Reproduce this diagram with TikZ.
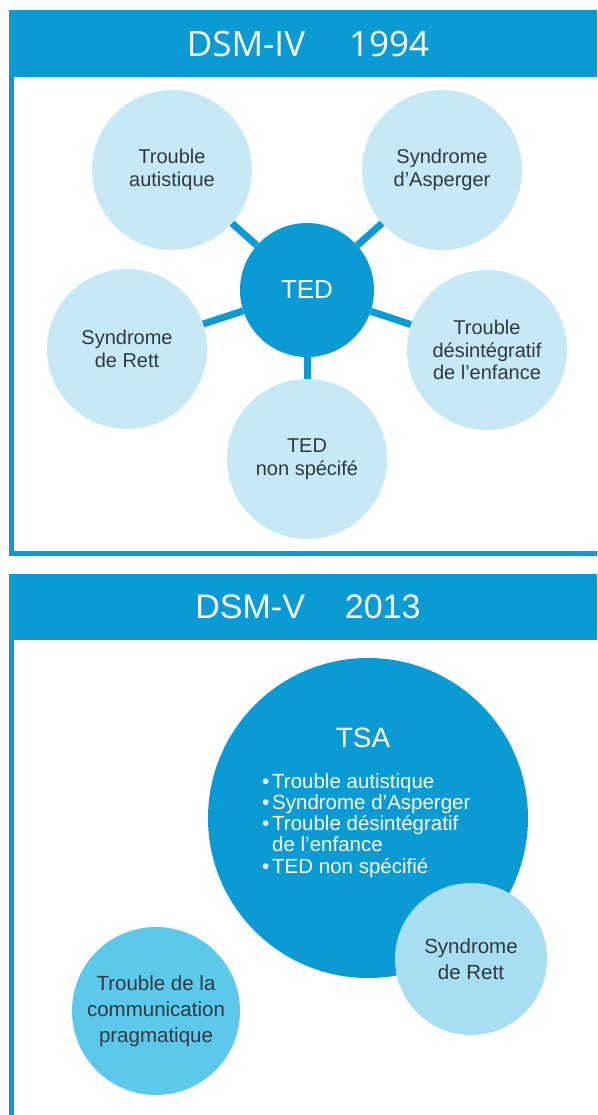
\documentclass[tikz,border=0pt]{standalone}
\usepackage{fontspec}
\setmainfont{Liberation Sans}
\newfontfamily\hdfont{Open Sans}
\definecolor{dblue}{HTML}{0A9AD4}
\definecolor{lblue}{HTML}{C6E9F5}
\definecolor{mblue}{HTML}{5CC8EA}
\definecolor{rblue}{HTML}{A8DEF2}
\definecolor{ltext}{HTML}{2F3A40}
\newcommand\mybul{\makebox[10pt][l]{\textbullet}}
\begin{document}
\begin{tikzpicture}[x=1pt,y=-1pt,
  light/.style={circle,fill=lblue,minimum size=160pt,inner sep=0pt,align=center,text=ltext,font=\fontsize{20}{22.5}\selectfont},
  lowc/.style={circle,inner sep=0pt,align=center,text=ltext,font=\fontsize{20.5}{26}\selectfont},
  hub/.style={circle,fill=dblue,inner sep=0pt,text=white},
  link/.style={draw=dblue,line width=7pt},
  frameline/.style={draw=dblue,line width=5pt}]
\useasboundingbox (0,0) rectangle (597,1115);
\fill[white] (0,0) rectangle (597,1115);
% ---------- DSM-IV ----------
\fill[dblue] (9,10) rectangle (597,77);
\node[text=white,font=\hdfont\fontsize{35}{40}\selectfont] (h1) at (308,44) {DSM-IV\hspace{44pt}1994};
\draw[frameline] (11.5,77) -- (11.5,553) -- (597,553);

\node[hub,minimum size=134pt,font=\fontsize{26}{30}\selectfont] (ted) at (307,290) {TED};
\node[light] (ta) at (172,170) {Trouble\\autistique};
\node[light] (sa) at (442,170) {Syndrome\\d’Asperger};
\node[light] (sr) at (127,349) {Syndrome\\de Rett};
\node[light] (td) at (487,350) {Trouble\\désintégratif\\de l’enfance};
\node[light] (tns) at (307,459) {TED\\non spécifé};
\draw[link] (ted) -- (ta);
\draw[link] (ted) -- (sa);
\draw[link] (ted) -- (sr);
\draw[link] (ted) -- (td);
\draw[link] (ted) -- (tns);

% ---------- DSM-V ----------
\fill[dblue] (9,574) rectangle (597,640);
\node[text=white,font=\fontsize{34}{40}\selectfont] (h2) at (308,607) {DSM-V\hspace{40pt}2013};
\draw[frameline] (11.5,640) -- (11.5,1115);

\node[hub,minimum size=320pt] (tsa) at (368,818) {};
\node[text=white,font=\fontsize{28}{32}\selectfont] (tsat) at (363,738) {TSA};
\node[anchor=north west,inner sep=0pt,align=left,text=white,font=\fontsize{20.5}{21.3}\selectfont] (tsal) at (262,773)
  {\mybul Trouble autistique\\ \mybul Syndrome d’Asperger\\ \mybul Trouble désintégratif\\ \hspace*{10pt}de l’enfance\\ \mybul TED non spécifié};
\node[lowc,fill=rblue,minimum size=152pt] (rett) at (471,959) {Syndrome\\de Rett};
\node[lowc,fill=mblue,minimum size=168pt] (tcp) at (156,1011) {Trouble de la\\communication\\pragmatique};
\end{tikzpicture}
\end{document}
